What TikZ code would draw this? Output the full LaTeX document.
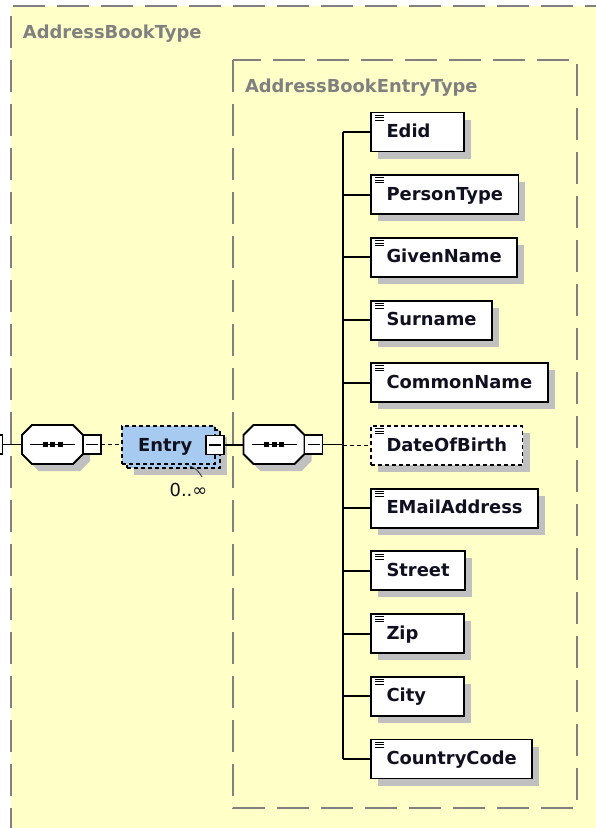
\documentclass[tikz,border=0pt]{standalone}
\usepackage{fontspec}
\setmainfont{DejaVu Sans}
\usetikzlibrary{shadows}
\definecolor{bgyellow}{HTML}{FFFFC8}
\definecolor{entryblue}{HTML}{A6CAF0}
\definecolor{shadowgray}{HTML}{C0C0C0}
\definecolor{framegray}{HTML}{808080}
\definecolor{textdark}{HTML}{101020}
\newlength\ewlen
\newcommand\ew[1]{\settowidth\ewlen{#1}\ifdim\ewlen<62pt\makebox[62pt][l]{#1}\else#1\fi}
\newcommand\bigbold{\fontsize{17.9}{20}\selectfont\bfseries}
\newcommand\bigreg{\fontsize{17.9}{20}\selectfont}
\newcommand\seqoct[1]{%
  \draw[seqshape] ([shift={(10,0)}]#1.north west) -- ([shift={(-10,0)}]#1.north east)
    -- ([shift={(0,10)}]#1.north east) -- ([shift={(0,-10)}]#1.south east)
    -- ([shift={(-10,0)}]#1.south east) -- ([shift={(10,0)}]#1.south west)
    -- ([shift={(0,-10)}]#1.south west) -- ([shift={(0,10)}]#1.north west) -- cycle;
  \draw[line width=1.6] ([shift={(-22.5,0)}]#1.center) -- ([shift={(22.5,0)}]#1.center);
  \foreach \dx in {-7.5,0,7.5}
    \fill ([shift={(\dx-2.5,-2.5)}]#1.center) rectangle ([shift={(\dx+2.5,2.5)}]#1.center);
}
\begin{document}
\begin{tikzpicture}[x=1pt,y=-1pt,
  conn/.style={line width=1.9, black},
  optconn/.style={conn, dash pattern=on 4 off 3},
  frame/.style={draw=framegray, line width=2, dash pattern=on 32 off 12},
  titlelbl/.style={anchor=base west, inner sep=0, outer sep=0, text=framegray, font=\bigbold},
  shadowed/.style={drop shadow={shadow xshift=7pt, shadow yshift=-7pt, fill=shadowgray, opacity=1}},
  elem/.style={draw=black, fill=white, line width=1.9, anchor=west, minimum height=39,
    inner xsep=15.5, inner ysep=0, outer sep=0, text height=12, text depth=1,
    text=textdark, font=\bigbold, shadowed},
  optelem/.style={elem, dash pattern=on 4 off 3},
  seqanchor/.style={minimum width=61, minimum height=39, inner sep=0, outer sep=0},
  seqshape/.style={draw=black, fill=white, line width=1.8, shadowed},
  minusbox/.style={draw=black, fill=white, line width=1.6, minimum width=18, minimum height=19,
    inner sep=0, outer sep=0,
    path picture={\draw[line width=1.4] ([shift={(3,0)}]path picture bounding box.west)
      -- ([shift={(-3,0)}]path picture bounding box.east);}},
  entrybox/.style={draw=black, fill=entryblue, line width=1.8, dash pattern=on 4 off 3,
    minimum width=93, minimum height=38, inner sep=0, outer sep=0},
  iconline/.style={line width=0.8, black}
]
\useasboundingbox (0,0) rectangle (596,828);
\fill[white] (0,0) rectangle (596,828);
\clip (0,0) rectangle (596,828);

% outer complex type frame
\fill[bgyellow] (11,6) rectangle (610,840);
\draw[frame] (11,840) -- (11,6) -- (610,6);
\node[titlelbl] (outertitle) at (23,38) {AddressBookType};

% inner complex type frame
\draw[frame] (233,60) rectangle (577,808);
\node[titlelbl] (innertitle) at (245,92) {AddressBookEntryType};

% partially visible parent box on the left
\node[minusbox] (pm) at (-6.5,444.5) {};

% first sequence
\node[seqanchor] (s1) at (52.5,444.5) {};
\seqoct{s1}
\node[minusbox, anchor=west] (m1) at (s1.east) {};

% Entry element (repeating)
\node[entrybox, shadowed] (eb) at (173.5,449) {};
\node[entrybox] (en) at (168.5,445) {};
\node[anchor=base west, inner sep=0, font=\bigbold, text=textdark] (entrylbl) at (138,451) {Entry};
\node[minusbox] (me) at (en.east) {};
\node[font=\bigreg, text=textdark, inner sep=0] (mult) at (188.5,490) {0..∞};
\draw[line width=0.9, black!75] (190,466) to[bend left=20] (202,477);

% second sequence
\node[seqanchor] (s2) at (274,444.5) {};
\seqoct{s2}
\node[minusbox, anchor=west] (m2) at (s2.east) {};

% child elements
\node[elem]    (e1)  at (371,132.0) {\ew{Edid}};
\node[elem]    (e2)  at (371,194.7) {\ew{PersonType}};
\node[elem]    (e3)  at (371,257.4) {\ew{GivenName}};
\node[elem]    (e4)  at (371,320.1) {\ew{Surname}};
\node[elem]    (e5)  at (371,382.8) {\ew{CommonName}};
\node[optelem] (e6)  at (371,445.5) {\ew{DateOfBirth}};
\node[elem]    (e7)  at (371,508.2) {\ew{EMailAddress}};
\node[elem]    (e8)  at (371,570.9) {\ew{Street}};
\node[elem]    (e9)  at (371,633.6) {\ew{Zip}};
\node[elem]    (e10) at (371,696.3) {\ew{City}};
\node[elem]    (e11) at (371,759.0) {\ew{CountryCode}};

\foreach \n in {e1,e2,e3,e4,e5,e6,e7,e8,e9,e10,e11}
  \foreach \dy in {2.5,5,7.5}
    \draw[iconline] ([shift={(3.5,\dy)}]\n.north west) -- ([shift={(12.5,\dy)}]\n.north west);

% connectors
\coordinate (bus) at (343,444.5);
\draw[conn] (pm.east) -- (s1.west);
\draw[optconn] (m1.east) -- (m1.east -| en.west);
\draw[conn] (me.east) -- (me.east -| s2.west);
\draw[conn] (m2.east) -- (m2.east -| bus);
\draw[conn] (bus |- e1.west) -- (bus |- e11.west);
\foreach \n in {e1,e2,e3,e4,e5,e7,e8,e9,e10,e11}
  \draw[conn] (bus |- \n.west) -- (\n.west);
\draw[optconn] (bus |- e6.west) -- (e6.west);
\end{tikzpicture}
\end{document}
